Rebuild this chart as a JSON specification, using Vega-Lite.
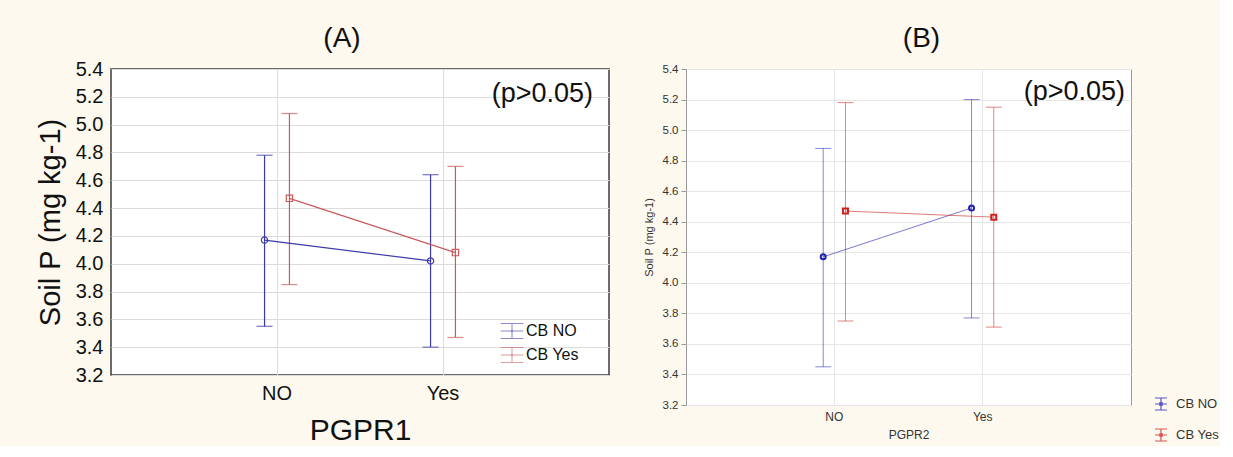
{
  "$schema": "https://vega.github.io/schema/vega-lite/v6.json",
  "background": "#fdf9ee",
  "padding": {"left": 35, "top": 24, "right": 0, "bottom": 0},
  "spacing": 32,
  "config": {
    "font": "Liberation Sans",
    "title": {"fontSize": 28, "fontWeight": "normal", "color": "#111111", "font": "Liberation Sans"},
    "axis": {"titleFontWeight": "normal", "labelOverlap": false, "labelFlush": false}
  },
  "datasets": {
    "A": [
      {"PGPR": "NO", "CB": "CB NO", "mean": 4.17, "lower": 3.55, "upper": 4.78},
      {"PGPR": "NO", "CB": "CB Yes", "mean": 4.47, "lower": 3.85, "upper": 5.08},
      {"PGPR": "Yes", "CB": "CB NO", "mean": 4.02, "lower": 3.40, "upper": 4.64},
      {"PGPR": "Yes", "CB": "CB Yes", "mean": 4.08, "lower": 3.47, "upper": 4.70}
    ],
    "B": [
      {"PGPR": "NO", "CB": "CB NO", "mean": 4.17, "lower": 3.45, "upper": 4.88},
      {"PGPR": "NO", "CB": "CB Yes", "mean": 4.47, "lower": 3.75, "upper": 5.18},
      {"PGPR": "Yes", "CB": "CB NO", "mean": 4.49, "lower": 3.77, "upper": 5.20},
      {"PGPR": "Yes", "CB": "CB Yes", "mean": 4.43, "lower": 3.71, "upper": 5.15}
    ],
    "noteA": [{"label": "(p>0.05)"}],
    "noteB": [{"label": "(p>0.05)"}]
  },
  "resolve": {
    "scale": {"color": "independent", "x": "independent", "y": "independent", "xOffset": "independent"},
    "legend": {"color": "independent"}
  },
  "hconcat": [
    {
      "width": 498,
      "height": 306,
      "view": {"fill": "white", "stroke": "#3c3c3c", "strokeWidth": 1.5},
      "title": {"text": "(A)", "dx": -18, "offset": 6},
      "layer": [
        {
          "data": {"name": "A"},
          "encoding": {
            "x": {
              "field": "PGPR", "type": "nominal",
              "scale": {"type": "band", "paddingInner": 0.7, "paddingOuter": 0.85},
              "axis": {"title": "PGPR1", "labelAngle": 0, "labelFontSize": 20, "titleFontSize": 30, "labelColor": "#111111", "titleColor": "#111111", "ticks": false, "domain": false, "grid": true, "gridColor": "#dcdcdc", "bandPosition": 0.5, "labelPadding": 8, "titlePadding": 12}
            },
            "xOffset": {"field": "CB", "type": "nominal", "scale": {"type": "band", "paddingInner": 0, "paddingOuter": 0}},
            "color": {
              "field": "CB", "type": "nominal",
              "scale": {"domain": ["CB NO", "CB Yes"], "range": ["#3a3aa8", "#c85a5a"]},
              "legend": {"title": null, "orient": "none", "legendX": 393, "legendY": 254, "labelFontSize": 16, "labelColor": "#111111", "rowPadding": 4, "labelOffset": 6,
                "symbolType": "M-1.5,-1H1.5M-1.5,0H1.5M-1.5,1H1.5M0,-1V1M-0.1,-0.1H0.1V0.1H-0.1Z",
                "symbolSize": 225, "symbolStrokeWidth": 1, "symbolOpacity": 0.6}
            }
          },
          "layer": [
            {
              "mark": {"type": "rule", "strokeWidth": 1.2},
              "encoding": {
                "y": {
                  "field": "lower", "type": "quantitative",
                  "scale": {"domain": [3.2, 5.4], "nice": false, "zero": false},
                  "axis": {"title": "Soil P (mg kg-1)", "values": [3.2, 3.4, 3.6, 3.8, 4.0, 4.2, 4.4, 4.6, 4.8, 5.0, 5.2, 5.4], "format": ".1f", "labelOverlap": false, "labelFontSize": 20, "titleFontSize": 29, "labelColor": "#111111", "titleColor": "#111111", "ticks": false, "domain": false, "grid": true, "gridColor": "#dcdcdc", "labelPadding": 8, "titlePadding": 10}
                },
                "y2": {"field": "upper"}
              }
            },
            {"mark": {"type": "tick", "size": 16, "thickness": 1.2}, "encoding": {"y": {"field": "lower", "type": "quantitative",
              "axis": {"title": "Soil P (mg kg-1)", "values": [3.2, 3.4, 3.6, 3.8, 4.0, 4.2, 4.4, 4.6, 4.8, 5.0, 5.2, 5.4], "format": ".1f", "labelOverlap": false, "labelFontSize": 20, "titleFontSize": 29, "labelColor": "#111111", "titleColor": "#111111", "ticks": false, "domain": false, "grid": true, "gridColor": "#dcdcdc", "labelPadding": 8, "titlePadding": 10}}}},
            {"mark": {"type": "tick", "size": 16, "thickness": 1.2}, "encoding": {"y": {"field": "upper", "type": "quantitative",
              "axis": {"title": "Soil P (mg kg-1)", "values": [3.2, 3.4, 3.6, 3.8, 4.0, 4.2, 4.4, 4.6, 4.8, 5.0, 5.2, 5.4], "format": ".1f", "labelOverlap": false, "labelFontSize": 20, "titleFontSize": 29, "labelColor": "#111111", "titleColor": "#111111", "ticks": false, "domain": false, "grid": true, "gridColor": "#dcdcdc", "labelPadding": 8, "titlePadding": 10}}}},
            {"mark": {"type": "line", "strokeWidth": 1.2}, "encoding": {"y": {"field": "mean", "type": "quantitative",
              "axis": {"title": "Soil P (mg kg-1)", "values": [3.2, 3.4, 3.6, 3.8, 4.0, 4.2, 4.4, 4.6, 4.8, 5.0, 5.2, 5.4], "format": ".1f", "labelOverlap": false, "labelFontSize": 20, "titleFontSize": 29, "labelColor": "#111111", "titleColor": "#111111", "ticks": false, "domain": false, "grid": true, "gridColor": "#dcdcdc", "labelPadding": 8, "titlePadding": 10}}}},
            {
              "transform": [{"filter": "datum.CB === 'CB NO'"}],
              "mark": {"type": "point", "shape": "circle", "filled": false, "size": 40, "strokeWidth": 1.2, "opacity": 1},
              "encoding": {"y": {"field": "mean", "type": "quantitative",
                "axis": {"title": "Soil P (mg kg-1)", "values": [3.2, 3.4, 3.6, 3.8, 4.0, 4.2, 4.4, 4.6, 4.8, 5.0, 5.2, 5.4], "format": ".1f", "labelOverlap": false, "labelFontSize": 20, "titleFontSize": 29, "labelColor": "#111111", "titleColor": "#111111", "ticks": false, "domain": false, "grid": true, "gridColor": "#dcdcdc", "labelPadding": 8, "titlePadding": 10}}}
            },
            {
              "transform": [{"filter": "datum.CB === 'CB Yes'"}],
              "mark": {"type": "point", "shape": "square", "filled": false, "size": 40, "strokeWidth": 1.2, "opacity": 1},
              "encoding": {"y": {"field": "mean", "type": "quantitative",
                "axis": {"title": "Soil P (mg kg-1)", "values": [3.2, 3.4, 3.6, 3.8, 4.0, 4.2, 4.4, 4.6, 4.8, 5.0, 5.2, 5.4], "format": ".1f", "labelOverlap": false, "labelFontSize": 20, "titleFontSize": 29, "labelColor": "#111111", "titleColor": "#111111", "ticks": false, "domain": false, "grid": true, "gridColor": "#dcdcdc", "labelPadding": 8, "titlePadding": 10}}}
            }
          ]
        },
        {
          "data": {"name": "noteA"},
          "mark": {"type": "text", "align": "right", "baseline": "middle", "fontSize": 27, "dx": -16, "color": "#111111"},
          "encoding": {"x": {"value": "width"}, "y": {"datum": 5.22, "type": "quantitative",
            "axis": {"title": "Soil P (mg kg-1)", "values": [3.2, 3.4, 3.6, 3.8, 4.0, 4.2, 4.4, 4.6, 4.8, 5.0, 5.2, 5.4], "format": ".1f", "labelOverlap": false, "labelFontSize": 20, "titleFontSize": 29, "labelColor": "#111111", "titleColor": "#111111", "ticks": false, "domain": false, "grid": true, "gridColor": "#dcdcdc", "labelPadding": 8, "titlePadding": 10}}, "text": {"field": "label"}}
        }
      ]
    },
    {
      "width": 445,
      "height": 336,
      "view": {"fill": "white", "stroke": "#9a9a9a", "strokeWidth": 1},
      "title": {"text": "(B)", "dx": 13, "offset": 10},
      "layer": [
        {
          "data": {"name": "B"},
          "encoding": {
            "x": {
              "field": "PGPR", "type": "nominal",
              "scale": {"type": "band", "paddingInner": 0.7, "paddingOuter": 0.85},
              "axis": {"title": "PGPR2", "labelAngle": 0, "labelFontSize": 12, "titleFontSize": 12, "labelColor": "#333333", "titleColor": "#333333", "ticks": false, "domain": false, "grid": true, "gridColor": "#e6e6e6", "bandPosition": 0.5, "labelPadding": 6, "titlePadding": 7}
            },
            "xOffset": {"field": "CB", "type": "nominal", "scale": {"type": "band", "paddingInner": 0, "paddingOuter": 0}},
            "color": {
              "field": "CB", "type": "nominal",
              "scale": {"domain": ["CB NO", "CB Yes"], "range": ["#2222b0", "#cc2222"]},
              "legend": {"title": null, "orient": "none", "legendX": 468, "legendY": 328, "labelFontSize": 13, "labelColor": "#333333", "rowPadding": 13, "labelOffset": 8,
                "symbolType": "M-1,-1H1M-1,0H1M-1,1H1M0,-1V1M-0.2,-0.2H0.2V0.2H-0.2Z",
                "symbolSize": 144, "symbolStrokeWidth": 1.2, "symbolOpacity": 0.75}
            }
          },
          "layer": [
            {
              "mark": {"type": "rule", "strokeWidth": 1, "opacity": 0.55},
              "encoding": {
                "y": {
                  "field": "lower", "type": "quantitative",
                  "scale": {"domain": [3.2, 5.4], "nice": false, "zero": false},
                  "axis": {"title": "Soil P (mg kg-1)", "values": [3.2, 3.4, 3.6, 3.8, 4.0, 4.2, 4.4, 4.6, 4.8, 5.0, 5.2, 5.4], "format": ".1f", "labelOverlap": false, "labelFontSize": 11.5, "titleFontSize": 11, "labelColor": "#333333", "titleColor": "#333333", "ticks": true, "tickSize": 5, "tickColor": "#999999", "domain": false, "grid": true, "gridColor": "#e6e6e6", "labelPadding": 3, "titlePadding": 8}
                },
                "y2": {"field": "upper"}
              }
            },
            {"mark": {"type": "tick", "size": 16, "thickness": 1, "opacity": 0.55}, "encoding": {"y": {"field": "lower", "type": "quantitative",
              "axis": {"title": "Soil P (mg kg-1)", "values": [3.2, 3.4, 3.6, 3.8, 4.0, 4.2, 4.4, 4.6, 4.8, 5.0, 5.2, 5.4], "format": ".1f", "labelOverlap": false, "labelFontSize": 11.5, "titleFontSize": 11, "labelColor": "#333333", "titleColor": "#333333", "ticks": true, "tickSize": 5, "tickColor": "#999999", "domain": false, "grid": true, "gridColor": "#e6e6e6", "labelPadding": 3, "titlePadding": 8}}}},
            {"mark": {"type": "tick", "size": 16, "thickness": 1, "opacity": 0.55}, "encoding": {"y": {"field": "upper", "type": "quantitative",
              "axis": {"title": "Soil P (mg kg-1)", "values": [3.2, 3.4, 3.6, 3.8, 4.0, 4.2, 4.4, 4.6, 4.8, 5.0, 5.2, 5.4], "format": ".1f", "labelOverlap": false, "labelFontSize": 11.5, "titleFontSize": 11, "labelColor": "#333333", "titleColor": "#333333", "ticks": true, "tickSize": 5, "tickColor": "#999999", "domain": false, "grid": true, "gridColor": "#e6e6e6", "labelPadding": 3, "titlePadding": 8}}}},
            {"mark": {"type": "line", "strokeWidth": 1, "opacity": 0.6}, "encoding": {"y": {"field": "mean", "type": "quantitative",
              "axis": {"title": "Soil P (mg kg-1)", "values": [3.2, 3.4, 3.6, 3.8, 4.0, 4.2, 4.4, 4.6, 4.8, 5.0, 5.2, 5.4], "format": ".1f", "labelOverlap": false, "labelFontSize": 11.5, "titleFontSize": 11, "labelColor": "#333333", "titleColor": "#333333", "ticks": true, "tickSize": 5, "tickColor": "#999999", "domain": false, "grid": true, "gridColor": "#e6e6e6", "labelPadding": 3, "titlePadding": 8}}}},
            {
              "transform": [{"filter": "datum.CB === 'CB NO'"}],
              "mark": {"type": "point", "shape": "circle", "filled": false, "size": 25, "strokeWidth": 2, "opacity": 1},
              "encoding": {"y": {"field": "mean", "type": "quantitative",
                "axis": {"title": "Soil P (mg kg-1)", "values": [3.2, 3.4, 3.6, 3.8, 4.0, 4.2, 4.4, 4.6, 4.8, 5.0, 5.2, 5.4], "format": ".1f", "labelOverlap": false, "labelFontSize": 11.5, "titleFontSize": 11, "labelColor": "#333333", "titleColor": "#333333", "ticks": true, "tickSize": 5, "tickColor": "#999999", "domain": false, "grid": true, "gridColor": "#e6e6e6", "labelPadding": 3, "titlePadding": 8}}}
            },
            {
              "transform": [{"filter": "datum.CB === 'CB Yes'"}],
              "mark": {"type": "point", "shape": "square", "filled": false, "size": 25, "strokeWidth": 2, "opacity": 1},
              "encoding": {"y": {"field": "mean", "type": "quantitative",
                "axis": {"title": "Soil P (mg kg-1)", "values": [3.2, 3.4, 3.6, 3.8, 4.0, 4.2, 4.4, 4.6, 4.8, 5.0, 5.2, 5.4], "format": ".1f", "labelOverlap": false, "labelFontSize": 11.5, "titleFontSize": 11, "labelColor": "#333333", "titleColor": "#333333", "ticks": true, "tickSize": 5, "tickColor": "#999999", "domain": false, "grid": true, "gridColor": "#e6e6e6", "labelPadding": 3, "titlePadding": 8}}}
            }
          ]
        },
        {
          "data": {"name": "noteB"},
          "mark": {"type": "text", "align": "right", "baseline": "middle", "fontSize": 27, "dx": -6, "color": "#111111"},
          "encoding": {"x": {"value": "width"}, "y": {"datum": 5.25, "type": "quantitative",
            "axis": {"title": "Soil P (mg kg-1)", "values": [3.2, 3.4, 3.6, 3.8, 4.0, 4.2, 4.4, 4.6, 4.8, 5.0, 5.2, 5.4], "format": ".1f", "labelOverlap": false, "labelFontSize": 11.5, "titleFontSize": 11, "labelColor": "#333333", "titleColor": "#333333", "ticks": true, "tickSize": 5, "tickColor": "#999999", "domain": false, "grid": true, "gridColor": "#e6e6e6", "labelPadding": 3, "titlePadding": 8}}, "text": {"field": "label"}}
        }
      ]
    }
  ]
}
